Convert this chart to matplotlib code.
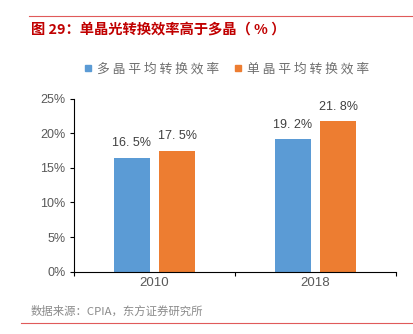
import numpy as np
import matplotlib
matplotlib.use("Agg")
import matplotlib.pyplot as plt
from matplotlib.lines import Line2D

plt.rcParams['font.family'] = ['Liberation Sans', 'Noto Sans CJK SC', 'DejaVu Sans']

# ── Data ──────────────────────────────────────────────────────────────────────
years = ["2010", "2018"]
multi = [16.5, 19.2]    # 多晶平均转换效率
mono = [17.5, 21.8]     # 单晶平均转换效率
multi_labels = ["16. 5%", "19. 2%"]
mono_labels = ["17. 5%", "21. 8%"]
series_names = ["多晶平均转换效率", "单晶平均转换效率"]
yticks = [0, 5, 10, 15, 20, 25]

BLUE = "#5b9bd5"
ORANGE = "#ed7d31"
GRAY = "#595959"
RED = "#e05a5a"

fig = plt.figure(figsize=(4.13, 3.34), dpi=100)
ax = fig.add_axes([0.179, 0.187, 0.780, 0.517])

x = np.arange(len(years))
w = 0.225
off = 0.141
ax.bar(x - off, multi, w, color=BLUE)
ax.bar(x + off, mono, w, color=ORANGE)

for xi, v, lbl in zip(x - off, multi, multi_labels):
    ax.text(xi, v + 1.2, lbl, ha="center", va="bottom", fontsize=9, color="#404040")
for xi, v, lbl in zip(x + off, mono, mono_labels):
    ax.text(xi, v + 1.2, lbl, ha="center", va="bottom", fontsize=9, color="#404040")

ax.set_xlim(-0.5, 1.5)
ax.set_ylim(0, 25)
ax.set_yticks(yticks)
ax.set_yticklabels([f"{t}%" for t in yticks], fontsize=9, color=GRAY)
ax.set_xticks([-0.5, 0.5, 1.5], minor=False)
ax.set_xticklabels(["", "", ""])
ax.set_xticks(x, minor=True)
ax.set_xticklabels(years, minor=True, fontsize=9.5, color=GRAY)
ax.tick_params(axis="x", which="minor", length=0, pad=4)
ax.tick_params(axis="x", which="major", length=3, color="black")
ax.tick_params(axis="y", length=3, pad=3, color="black")
ax.spines["top"].set_visible(False)
ax.spines["right"].set_visible(False)
ax.spines["left"].set_color("black")
ax.spines["bottom"].set_color("black")

# legend
handles = [Line2D([], [], marker="s", linestyle="none", markersize=5, color=BLUE),
           Line2D([], [], marker="s", linestyle="none", markersize=5, color=ORANGE)]
leg = fig.legend(handles, [" ".join(n) for n in series_names],
                 loc="center", bbox_to_anchor=(0.545, 0.793), ncol=2, frameon=False,
                 prop={"family": ["Noto Sans CJK SC"], "size": 9.2},
                 handletextpad=0.2, columnspacing=1.0, handlelength=1.0)
for t in leg.get_texts():
    t.set_color("#6f6f6f")

# title, source, red rules
fig.text(0.075, 0.913, "图 29：单晶光转换效率高于多晶（ % ）", fontsize=10.3, fontweight="bold",
         color="#c00000", ha="left", va="center",
         family=["Noto Sans CJK SC", "DejaVu Sans"])
fig.text(0.075, 0.069, "数据来源：CPIA，东方证券研究所", fontsize=8.2, color="#8a8a8a",
         ha="left", va="center", family=["Noto Sans CJK SC", "DejaVu Sans"])
fig.add_artist(Line2D([0.07, 1.0], [0.952, 0.952], color=RED, lw=0.8))
fig.add_artist(Line2D([0.051, 1.0], [0.033, 0.033], color=RED, lw=0.8))

fig.savefig("out.png", dpi=100)
